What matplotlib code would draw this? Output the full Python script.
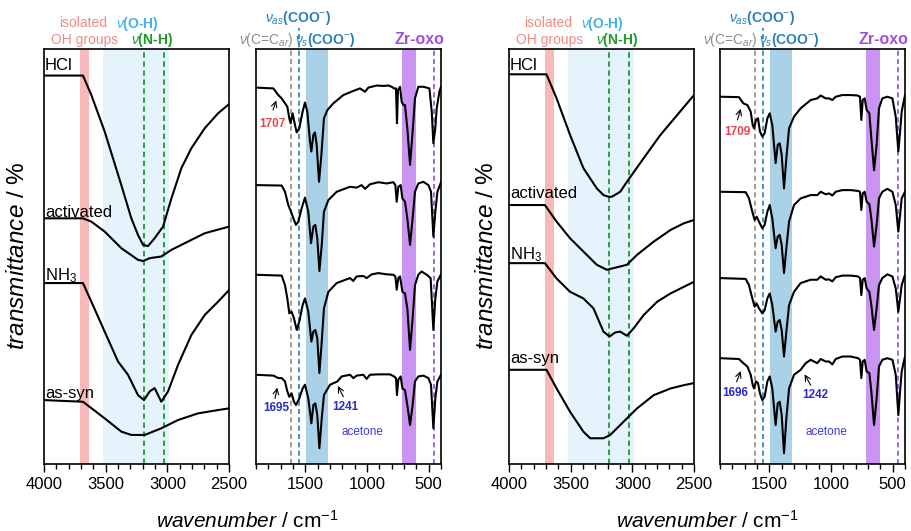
import matplotlib
matplotlib.use("Agg")
import matplotlib.pyplot as plt
from matplotlib.ticker import MultipleLocator

plt.rcParams['font.family'] = ['Liberation Sans', 'DejaVu Sans']
plt.rcParams['mathtext.fontset'] = 'custom'
plt.rcParams['mathtext.rm'] = 'Liberation Sans'
plt.rcParams['mathtext.it'] = 'Liberation Sans:italic'
plt.rcParams['mathtext.bf'] = 'Liberation Sans:bold'

# ---- data (offset transmittance in arbitrary units) ----
samples = ["HCl", "activated", "NH$_3$", "as-syn"]

# left sample set, O-H / N-H region
oh_a_hcl_wn = [4000, 3684, 3616, 3508, 3373, 3292, 3238, 3197, 3157, 3103, 3035, 2967, 2886, 2805, 2697, 2589, 2500]
oh_a_hcl_t = [93.6, 93.6, 88.9, 80.1, 67.2, 59.2, 55.2, 52.8, 52.5, 54.4, 57.2, 64.0, 71.3, 76.1, 80.9, 84.5, 86.7]
oh_a_act_wn = [4000, 3684, 3616, 3508, 3373, 3238, 3197, 3143, 3049, 2967, 2805, 2697, 2500]
oh_a_act_t = [59.2, 59.2, 58.4, 56.0, 52.0, 49.2, 48.9, 49.6, 50.0, 51.6, 54.0, 55.6, 57.2]
oh_a_nh3_wn = [4000, 3684, 3616, 3508, 3400, 3319, 3238, 3189, 3143, 3103, 3049, 2994, 2913, 2805, 2697, 2589, 2500]
oh_a_nh3_t = [43.6, 43.6, 39.1, 31.9, 24.7, 21.5, 16.6, 15.4, 17.5, 18.3, 15.0, 17.5, 23.9, 31.1, 35.9, 39.1, 41.9]
oh_a_syn_wn = [4000, 3684, 3508, 3373, 3292, 3184, 3049, 2913, 2751, 2589, 2500]
oh_a_syn_t = [15.4, 15.0, 11.0, 7.8, 7.0, 7.0, 8.6, 10.6, 12.2, 13.0, 13.4]

# right sample set, O-H / N-H region
oh_b_hcl_wn = [4000, 3696, 3614, 3505, 3397, 3288, 3234, 3193, 3166, 3098, 3044, 2908, 2772, 2636, 2500]
oh_b_hcl_t = [93.9, 93.9, 88.1, 79.3, 71.3, 66.4, 64.8, 64.4, 64.4, 65.6, 68.0, 73.7, 79.3, 84.1, 88.9]
oh_b_act_wn = [4000, 3709, 3614, 3505, 3397, 3288, 3207, 3152, 3098, 3044, 2962, 2826, 2690, 2582, 2500]
oh_b_act_t = [62.4, 62.4, 58.4, 54.4, 51.2, 48.0, 46.8, 47.2, 47.6, 48.0, 50.4, 53.6, 56.4, 58.0, 58.8]
oh_b_nh3_wn = [4000, 3709, 3614, 3505, 3397, 3315, 3234, 3185, 3139, 3098, 3044, 2989, 2908, 2799, 2690, 2582, 2500]
oh_b_nh3_t = [48.4, 48.4, 44.7, 41.5, 39.9, 37.5, 31.9, 30.7, 31.7, 31.9, 30.9, 32.7, 35.9, 39.1, 41.1, 42.7, 43.9]
oh_b_syn_wn = [4000, 3696, 3614, 3505, 3397, 3342, 3234, 3179, 3071, 2962, 2826, 2690, 2582, 2500]
oh_b_syn_t = [22.7, 22.7, 18.2, 12.6, 7.8, 6.2, 6.2, 7.0, 10.2, 13.4, 16.6, 18.2, 19.0, 19.5]

# left sample set, fingerprint region
fp_a_hcl_wn = [1900, 1759, 1719, 1692, 1646, 1630, 1619, 1603, 1584, 1570, 1549, 1522, 1503, 1484, 1462, 1451,
               1435, 1422, 1408, 1389, 1370, 1349, 1321, 1273, 1192, 1111, 1057, 1016, 989, 949, 921, 867, 827,
               800, 781, 765, 757, 749, 732, 719, 705, 692, 673, 651, 630, 611, 584, 543, 516, 494, 475, 462,
               446, 435, 413, 400]
fp_a_hcl_t = [90.7, 90.5, 88.9, 88.1, 86.1, 83.3, 82.1, 84.5, 81.7, 79.9, 80.9, 84.9, 87.1, 84.9, 77.7, 75.3,
              79.3, 79.9, 76.9, 68.0, 74.5, 83.3, 85.3, 86.9, 88.9, 89.9, 90.5, 89.7, 90.7, 91.0, 91.2, 91.1, 91.2,
              90.9, 90.5, 90.5, 82.1, 90.1, 90.9, 87.3, 86.5, 86.5, 80.9, 72.1, 80.1, 88.1, 90.9, 90.9, 90.7, 90.5,
              84.9, 77.3, 80.9, 85.7, 89.7, 90.9]
fp_a_act_wn = [1900, 1692, 1665, 1638, 1611, 1592, 1576, 1557, 1530, 1503, 1476, 1454, 1435, 1419, 1403, 1386,
               1367, 1349, 1313, 1246, 1138, 1084, 1043, 1016, 976, 908, 840, 786, 770, 759, 746, 727, 713, 692,
               673, 651, 630, 611, 584, 543, 502, 481, 462, 446, 429, 400]
fp_a_act_t = [67.2, 67.1, 65.6, 62.4, 60.4, 58.8, 57.6, 58.4, 61.6, 64.2, 60.8, 53.2, 57.2, 57.6, 54.4, 46.5,
              52.8, 60.8, 63.6, 65.6, 66.8, 66.6, 67.2, 66.3, 67.4, 67.9, 67.6, 67.9, 67.2, 63.2, 66.8, 67.2, 64.0,
              63.2, 59.2, 52.8, 59.2, 65.6, 67.6, 68.0, 67.2, 65.6, 54.8, 60.8, 65.6, 67.9]
fp_a_nh3_wn = [1900, 1692, 1665, 1646, 1630, 1611, 1592, 1570, 1549, 1522, 1503, 1476, 1451, 1435, 1419, 1403,
               1386, 1367, 1349, 1313, 1246, 1138, 1111, 1084, 1030, 1003, 962, 908, 840, 786, 770, 759, 746, 732,
               713, 692, 673, 651, 630, 611, 584, 557, 516, 484, 462, 446, 429, 400]
fp_a_nh3_t = [45.6, 45.4, 43.1, 39.9, 36.3, 36.7, 35.1, 32.3, 34.3, 38.3, 39.9, 36.7, 29.5, 31.9, 32.3, 30.3,
              21.9, 29.5, 37.5, 41.5, 43.6, 44.8, 44.1, 45.2, 45.3, 44.8, 45.7, 46.0, 45.7, 45.6, 45.2, 42.0, 44.8,
              45.2, 41.5, 41.1, 37.5, 27.5, 35.1, 43.1, 45.6, 46.4, 45.6, 44.8, 32.3, 39.9, 44.0, 45.7]
fp_a_syn_wn = [1900, 1759, 1719, 1692, 1665, 1646, 1630, 1611, 1592, 1576, 1549, 1522, 1503, 1476, 1451, 1435,
               1419, 1403, 1386, 1367, 1349, 1300, 1240, 1205, 1138, 1111, 1084, 1030, 1003, 976, 908, 813, 781,
               765, 757, 746, 727, 713, 692, 673, 651, 630, 611, 584, 543, 502, 481, 462, 446, 429, 400]
fp_a_syn_t = [21.5, 21.3, 20.7, 20.7, 19.9, 17.5, 16.2, 17.0, 15.0, 14.2, 15.8, 18.2, 19.1, 15.8, 9.8, 14.2,
              14.6, 11.8, 3.8, 11.0, 16.6, 19.1, 19.9, 21.1, 21.5, 20.7, 21.3, 21.5, 20.5, 21.5, 21.6, 21.6, 21.1,
              20.7, 16.6, 20.3, 21.1, 18.2, 17.8, 14.2, 9.4, 14.2, 19.9, 21.1, 21.3, 20.7, 19.1, 8.6, 15.8, 19.9, 21.5]

# right sample set, fingerprint region
fp_b_hcl_wn = [1900, 1746, 1711, 1678, 1651, 1635, 1624, 1608, 1592, 1576, 1557, 1538, 1516, 1497, 1476, 1449,
               1432, 1416, 1400, 1381, 1362, 1340, 1300, 1246, 1165, 1111, 1084, 1043, 1016, 989, 962, 908, 840,
               786, 765, 754, 743, 727, 711, 689, 673, 651, 630, 611, 584, 543, 502, 475, 454, 440, 427, 400]
fp_b_hcl_t = [88.5, 88.4, 86.9, 86.5, 84.9, 81.7, 80.9, 82.9, 83.3, 80.1, 78.9, 79.7, 83.3, 84.5, 81.7, 72.5,
              76.9, 77.3, 74.5, 66.4, 73.7, 80.9, 83.7, 85.7, 87.7, 88.1, 88.8, 88.1, 88.1, 87.7, 88.5, 88.9, 88.9,
              88.8, 88.5, 82.9, 87.7, 88.1, 85.3, 84.5, 78.5, 70.8, 76.9, 85.7, 88.1, 88.5, 88.1, 83.7, 75.3, 80.1,
              84.9, 88.9]
fp_b_act_wn = [1900, 1692, 1665, 1638, 1619, 1603, 1584, 1557, 1538, 1516, 1497, 1476, 1449, 1432, 1416, 1400,
               1381, 1362, 1340, 1300, 1246, 1165, 1111, 1084, 1043, 1016, 989, 962, 908, 840, 781, 765, 754, 743,
               727, 711, 689, 673, 651, 630, 611, 584, 543, 502, 475, 454, 440, 427, 400]
fp_b_act_t = [65.6, 65.5, 64.0, 60.8, 58.8, 59.6, 58.4, 56.8, 57.6, 60.8, 62.4, 59.2, 52.0, 54.8, 55.2, 52.8,
              46.0, 52.0, 58.4, 62.4, 64.0, 64.8, 64.8, 65.6, 65.0, 65.2, 64.7, 65.6, 66.0, 66.0, 65.8, 65.6, 61.2,
              65.2, 65.6, 63.2, 62.6, 59.2, 52.4, 57.6, 64.0, 65.6, 66.3, 65.6, 62.4, 56.0, 60.0, 64.0, 65.6]
fp_b_nh3_wn = fp_b_act_wn
fp_b_nh3_t = [44.8, 44.6, 43.1, 39.9, 37.9, 38.7, 37.5, 36.3, 37.1, 39.9, 41.1, 38.3, 31.9, 34.3, 34.7, 32.3,
              25.9, 31.9, 38.3, 41.5, 43.6, 44.4, 44.4, 45.2, 44.4, 44.5, 44.0, 45.0, 45.4, 45.4, 45.2, 44.8, 40.7,
              44.4, 44.8, 42.3, 41.5, 38.3, 32.3, 37.5, 43.1, 44.8, 45.7, 45.2, 42.3, 36.7, 39.9, 43.1, 45.6]
fp_b_syn_wn = [1900, 1746, 1711, 1678, 1651, 1635, 1624, 1608, 1592, 1576, 1557, 1538, 1516, 1497, 1476, 1449,
               1432, 1416, 1400, 1381, 1362, 1340, 1300, 1246, 1205, 1165, 1111, 1084, 1043, 1016, 989, 962, 908,
               840, 781, 765, 754, 743, 727, 711, 689, 673, 651, 630, 611, 584, 543, 502, 475, 454, 440, 427, 400]
fp_b_syn_t = [25.5, 25.3, 24.3, 23.5, 21.5, 19.1, 18.2, 19.9, 19.5, 17.0, 15.4, 16.2, 19.9, 21.1, 18.2, 9.4,
              14.6, 15.0, 11.8, 2.6, 11.0, 18.2, 21.5, 22.7, 24.3, 25.1, 24.3, 25.3, 24.7, 24.7, 24.0, 25.3, 25.9,
              25.9, 25.5, 25.1, 20.7, 24.7, 25.1, 22.3, 21.9, 17.5, 9.4, 15.8, 23.5, 25.1, 25.5, 25.1, 21.5, 11.8,
              17.5, 22.3, 25.9]

# sample label heights
label_y_a = [96.1, 60.7, 45.5, 17.1]
label_y_b = [96.1, 65.3, 50.4, 25.5]

# band assignments (cm-1)
oh_isolated = (3705, 3635)
oh_stretch = (3520, 2990)
nh_lines = [3188, 3030]
cc_ar_line = 1615
coo_as_line = 1555
coo_s_band = (1495, 1320)
zr_oxo_band = (720, 600)
zr_oxo_line = 455

# shoulder / acetone marks: (text, text xy, arrow tail, arrow head, colour)
marks_a = [("1707", (1765, 81.9), (1762, 85.3), (1736, 87.6), "#e8454e"),
           ("1695", (1732, 13.6), (1746, 15.8), (1727, 18.4), "#2b2bd0"),
           ("1241", (1178, 13.8), (1192, 16.2), (1236, 18.8), "#2b2bd0")]
marks_b = [("1709", (1762, 80.1), (1759, 82.9), (1732, 85.6), "#e8454e"),
           ("1696", (1773, 17.0), (1765, 19.8), (1732, 22.4), "#2b2bd0"),
           ("1242", (1124, 16.6), (1165, 19.0), (1214, 21.6), "#2b2bd0")]

W, H = 912, 531
fig = plt.figure(figsize=(W / 100, H / 100), dpi=100)


def make_ax(left_px, xlim, major, minor):
    ax = fig.add_axes([left_px / W, (H - 464) / H, 185 / W, 415 / H])
    ax.set_xlim(*xlim)
    ax.set_ylim(0, 100)
    ax.xaxis.set_major_locator(MultipleLocator(major))
    ax.xaxis.set_minor_locator(MultipleLocator(minor))
    ax.set_yticks([])
    ax.tick_params(axis='x', which='both', direction='out', top=False, labelsize=12, width=1)
    ax.tick_params(axis='x', which='major', length=6)
    ax.tick_params(axis='x', which='minor', length=3.5)
    for s in ax.spines.values():
        s.set_linewidth(1.2)
    return ax


def oh_panel(ax, spectra, label_y):
    ax.axvspan(*oh_isolated, color='#f7b9b9', lw=0, zorder=0)
    ax.axvspan(*oh_stretch, color='#e4f3fc', lw=0, zorder=0)
    for x in nh_lines:
        ax.axvline(x, color='#1a9a2a', lw=1.3, ls=(0, (3, 2)), zorder=1)
    for wn, t in spectra:
        ax.plot(wn, t, color='black', lw=1.5, zorder=2)
    for name, y in zip(samples, label_y):
        ax.text(3992, y, name, fontsize=12, ha='left', va='center', zorder=3)
    tr = ax.get_xaxis_transform()
    ax.text(3680, 1.063, "isolated", color='#f08a84', fontsize=10, ha='center', va='center', transform=tr)
    ax.text(3668, 1.022, "OH groups", color='#f08a84', fontsize=10, ha='center', va='center', transform=tr)
    ax.text(3240, 1.060, r"$\nu$(O-H)", color='#45aeee', fontsize=10, weight='bold', ha='center', va='center', transform=tr)
    ax.text(3126, 1.022, r"$\nu$(N-H)", color='#1e9a2a', fontsize=10, weight='bold', ha='center', va='center', transform=tr)


def fp_panel(ax, spectra, marks):
    ax.axvspan(*coo_s_band, color='#a9d1e8', lw=0, zorder=0)
    ax.axvspan(*zr_oxo_band, color='#c994f2', lw=0, zorder=0)
    ax.axvline(cc_ar_line, color='#8c8c8c', lw=1.2, ls=(0, (3, 2)), zorder=1)
    ax.plot([coo_as_line, coo_as_line], [0, 105], color='#2a7fb8', lw=1.2, ls=(0, (3, 2)),
            clip_on=False, zorder=1)
    ax.axvline(zr_oxo_line, color='#8a4fe0', lw=1.2, ls=(0, (3, 2)), zorder=1)
    for wn, t in spectra:
        ax.plot(wn, t, color='black', lw=1.5, zorder=2)
    for txt, xy, tail, head, col in marks:
        ax.text(*xy, txt, color=col, fontsize=8.5, weight='bold', ha='center', va='center')
        ax.annotate("", xy=head, xytext=tail,
                    arrowprops=dict(arrowstyle='->', color='black', lw=0.8, shrinkA=0, shrinkB=0))
    tr = ax.get_xaxis_transform()
    ax.text(1560, 1.075, r"$\nu_{as}$(COO$^{-}$)", color='#2a7fb8', fontsize=10, weight='bold',
            ha='center', va='center', transform=tr)
    ax.text(1815, 1.022, r"$\nu$(C=C$_{ar}$)", color='#8c8c8c', fontsize=10,
            ha='center', va='center', transform=tr)
    ax.text(1335, 1.022, r"$\nu_{s}$(COO$^{-}$)", color='#2a7fb8', fontsize=10, weight='bold',
            ha='center', va='center', transform=tr)
    ax.text(572, 1.022, "Zr-oxo", color='#9c50e0', fontsize=11.5, weight='bold',
            ha='center', va='center', transform=tr)
    ax.text(1040, 7.8, "acetone", color='#3b3bdc', fontsize=8.5, ha='center', va='center')


ax1 = make_ax(44, (4000, 2500), 500, 100)
oh_panel(ax1, [(oh_a_hcl_wn, oh_a_hcl_t), (oh_a_act_wn, oh_a_act_t),
               (oh_a_nh3_wn, oh_a_nh3_t), (oh_a_syn_wn, oh_a_syn_t)], label_y_a)
ax2 = make_ax(256, (1900, 400), 500, 100)
fp_panel(ax2, [(fp_a_hcl_wn, fp_a_hcl_t), (fp_a_act_wn, fp_a_act_t),
               (fp_a_nh3_wn, fp_a_nh3_t), (fp_a_syn_wn, fp_a_syn_t)], marks_a)
ax3 = make_ax(509, (4000, 2500), 500, 100)
oh_panel(ax3, [(oh_b_hcl_wn, oh_b_hcl_t), (oh_b_act_wn, oh_b_act_t),
               (oh_b_nh3_wn, oh_b_nh3_t), (oh_b_syn_wn, oh_b_syn_t)], label_y_b)
ax4 = make_ax(720, (1900, 400), 500, 100)
fp_panel(ax4, [(fp_b_hcl_wn, fp_b_hcl_t), (fp_b_act_wn, fp_b_act_t),
               (fp_b_nh3_wn, fp_b_nh3_t), (fp_b_syn_wn, fp_b_syn_t)], marks_b)

for xpx in (18, 487):
    fig.text(xpx / W, (H - 256) / H, r"$\mathit{transmittance}$ / %", rotation=90,
             fontsize=17.5, ha='center', va='center')
for xpx in (247, 707):
    fig.text(xpx / W, (H - 521) / H, r"$\mathit{wavenumber}$ / cm$^{-1}$",
             fontsize=15, ha='center', va='center')

fig.savefig("out.png", dpi=100)
